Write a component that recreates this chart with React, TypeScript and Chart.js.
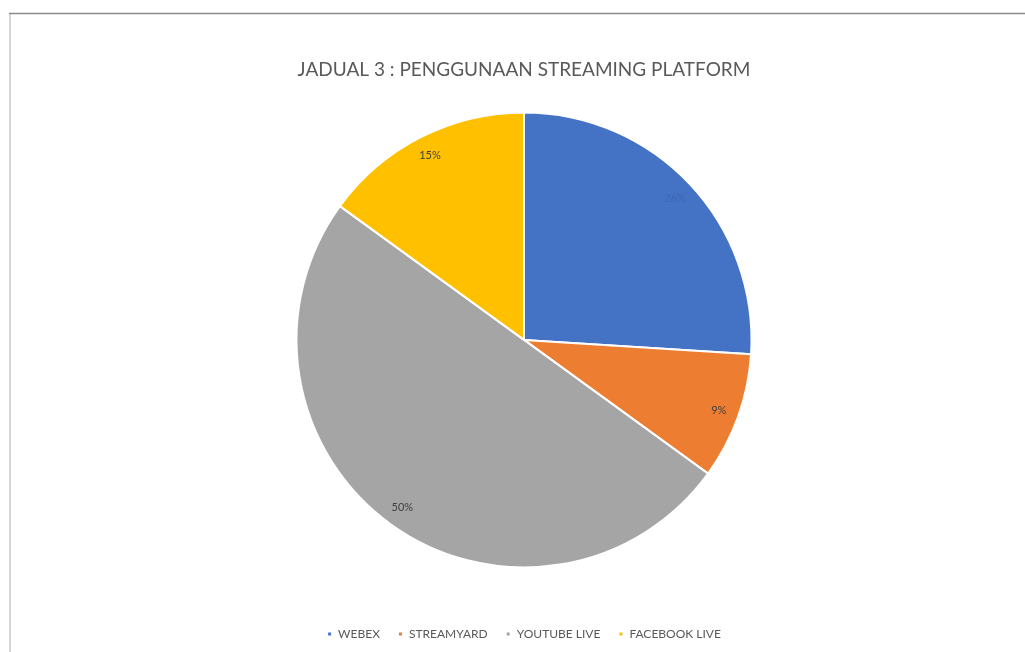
import React, { useEffect, useRef } from "react";
import { Chart, registerables } from "chart.js";

Chart.register(...registerables);

const TITLE = "JADUAL 3 : PENGGUNAAN STREAMING PLATFORM";
const categories = ["WEBEX", "STREAMYARD", "YOUTUBE LIVE", "FACEBOOK LIVE"];
const values = [26, 9, 50, 15];
const colors = ["#4472C4", "#ED7D31", "#A5A5A5", "#FFC000"];
const labelColors = ["#3E68B6", "#404040", "#404040", "#404040"];

const framePlugin = {
  id: "frame",
  beforeDraw(chart: any) {
    const ctx = chart.ctx;
    ctx.save();
    ctx.fillStyle = "#ffffff";
    ctx.fillRect(0, 0, chart.width, chart.height);
    ctx.strokeStyle = "#d6d6d6";
    ctx.lineWidth = 2;
    ctx.beginPath();
    ctx.moveTo(10, 14);
    ctx.lineTo(10, chart.height);
    ctx.stroke();
    ctx.strokeStyle = "#8a8a8a";
    ctx.lineWidth = 1.5;
    ctx.beginPath();
    ctx.moveTo(9, 13.5);
    ctx.lineTo(chart.width, 13.5);
    ctx.stroke();
    ctx.restore();
  },
};

const labelPlugin = {
  id: "pctLabels",
  afterDatasetsDraw(chart: any) {
    const ctx = chart.ctx;
    const meta = chart.getDatasetMeta(0);
    const total = values.reduce((a, b) => a + b, 0);
    ctx.save();
    ctx.font = "11px Lato, 'Open Sans', sans-serif";
    ctx.textAlign = "center";
    ctx.textBaseline = "middle";
    meta.data.forEach((arc: any, i: number) => {
      const { x, y, startAngle, endAngle, outerRadius } = arc.getProps(
        ["x", "y", "startAngle", "endAngle", "outerRadius"],
        true
      );
      const mid = (startAngle + endAngle) / 2;
      const r = outerRadius * 0.91;
      ctx.fillStyle = labelColors[i];
      ctx.fillText(
        Math.round((values[i] / total) * 100) + "%",
        x + Math.cos(mid) * r,
        y + Math.sin(mid) * r
      );
    });
    ctx.restore();
  },
};

export default function App() {
  const ref = useRef<HTMLCanvasElement>(null);
  useEffect(() => {
    if (!ref.current) return;
    const chart = new Chart(ref.current, {
      type: "pie",
      data: {
        labels: categories,
        datasets: [
          {
            data: values,
            backgroundColor: colors,
            borderColor: "#ffffff",
            borderWidth: 2,
          },
        ],
      },
      options: {
        responsive: false,
        animation: false,
        layout: { padding: { left: 23, right: 0, top: 0, bottom: 2 } },
        plugins: {
          title: {
            display: true,
            text: TITLE,
            color: "#595959",
            font: { family: "Lato, 'Open Sans', sans-serif", size: 19, weight: "normal" },
            padding: { top: 58, bottom: 30.6 },
          },
          legend: {
            position: "bottom",
            title: {
              display: true,
              text: "",
              font: { size: 10 },
              padding: { top: 29.6, bottom: 0 },
            },
            labels: {
              boxWidth: 5,
              boxHeight: 5,
              padding: 18,
              color: "#595959",
              font: { family: "Lato, 'Open Sans', sans-serif", size: 12 },
            },
          },
          tooltip: { enabled: false },
        },
      },
      plugins: [framePlugin, labelPlugin],
    });
    return () => chart.destroy();
  }, []);
  return (
    <div style={{ position: "absolute", left: 0, top: 0, width: 1025, height: 652 }}>
      <canvas ref={ref} width={1025} height={652} style={{ display: "block" }} />
    </div>
  );
}
